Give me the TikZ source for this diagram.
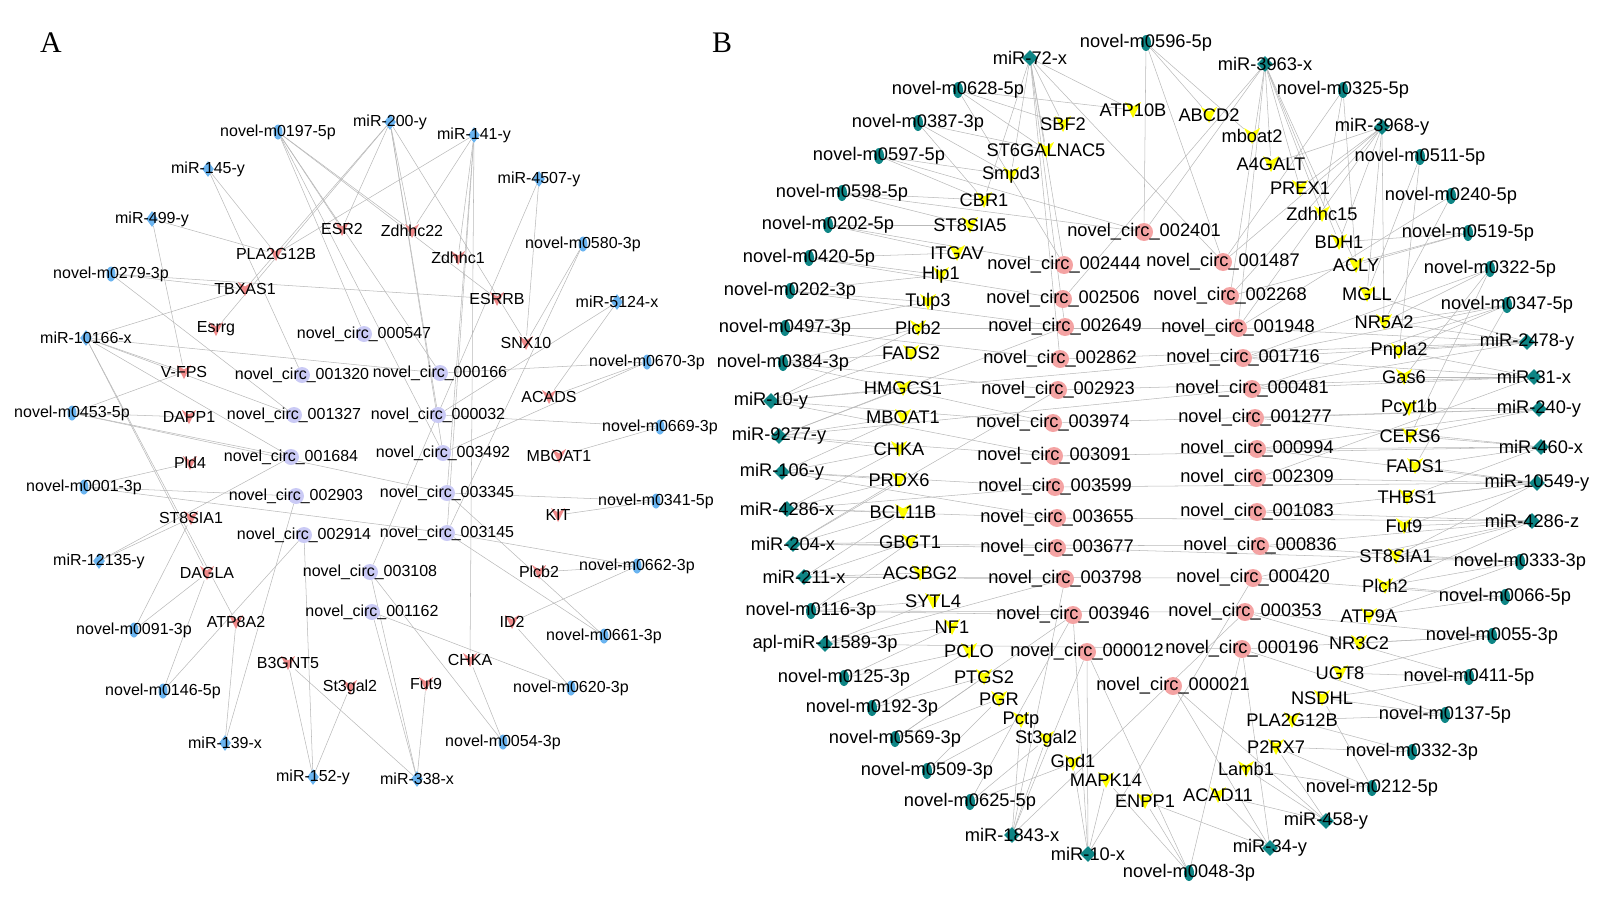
\documentclass[tikz,border=0pt]{standalone}
\usepackage{fontspec}
\setmainfont{Liberation Sans}
\newfontfamily\panelfont{Liberation Serif}
\usepackage{xcolor}
\definecolor{skyA}{HTML}{6AB4F0}
\definecolor{coralA}{HTML}{F08A8A}
\definecolor{lavA}{HTML}{CACAF5}
\definecolor{tealB}{HTML}{0E8585}
\definecolor{yellowB}{HTML}{FFFF00}
\definecolor{pinkB}{HTML}{F4A3A3}
\usetikzlibrary{shapes.geometric,backgrounds}
\tikzset{
    link/.style={draw=gray!55, line width=0.3pt},
    every label/.style={inner sep=0pt, text=black},
    vee/.style={rectangle, inner sep=0pt,
        path picture={\fill[#1] (path picture bounding box.north west)
            -- ([yshift=-0.09cm]path picture bounding box.north)
            -- (path picture bounding box.north east)
            -- (path picture bounding box.south) -- cycle;}},
    mirA/.style={diamond, fill=skyA, inner sep=0pt, minimum width=0.24cm, minimum height=0.32cm},
    novA/.style={ellipse, fill=skyA, inner sep=0pt, minimum width=0.18cm, minimum height=0.3cm},
    circA/.style={circle, fill=lavA, inner sep=0pt, minimum size=0.32cm},
    geneA/.style={vee=coralA, minimum size=0.28cm},
    mirB/.style={diamond, fill=tealB, inner sep=0pt, minimum width=0.32cm, minimum height=0.32cm},
    novB/.style={ellipse, fill=tealB, inner sep=0pt, minimum width=0.2cm, minimum height=0.32cm},
    circB/.style={circle, fill=pinkB, inner sep=0pt, minimum size=0.36cm},
    geneB/.style={vee=yellowB, minimum size=0.32cm},
    panel/.style={font=\panelfont\fontsize{17}{17}\selectfont, inner sep=0pt}
}

\begin{document}
\begin{tikzpicture}[x=0.02cm, y=-0.02cm]
\useasboundingbox (0,0) rectangle (1600,900);

\node[panel] (panA) at (51,43) {A};
\node[panel] (panB) at (722,43) {B};

% panel A
\begin{scope}[every label/.append style={font=\fontsize{9.1}{10}\selectfont}]
  \node[novA, label=center:novel-m0197-5p] (aN0197) at (278,132) {};
  \node[mirA, label=center:miR-200-y] (aM200) at (390,122) {};
  \node[mirA, label=center:miR-141-y] (aM141) at (474,135) {};
  \node[mirA, label=center:miR-145-y] (aM145) at (208,169) {};
  \node[mirA, label=center:miR-4507-y] (aM4507) at (539,179) {};
  \node[mirA, label=center:miR-499-y] (aM499) at (152,219) {};
  \node[geneA, label=center:ESR2] (aESR2) at (342,229) {};
  \node[geneA, label=center:Zdhhc22] (aZdhhc22) at (412,231) {};
  \node[novA, label=center:novel-m0580-3p] (aN0580) at (583,244) {};
  \node[geneA, label=center:PLA2G12B] (aPLA2G12B) at (276,254) {};
  \node[geneA, label=center:Zdhhc1] (aZdhhc1) at (458,258) {};
  \node[novA, label=center:novel-m0279-3p] (aN0279) at (111,274) {};
  \node[geneA, label=center:TBXAS1] (aTBXAS1) at (245,289) {};
  \node[geneA, label=center:ESRRB] (aESRRB) at (497,299) {};
  \node[mirA, label=center:miR-5124-x] (aM5124) at (617,302) {};
  \node[geneA, label=center:Esrrg] (aEsrrg) at (216,329) {};
  \node[circA, label=center:novel\_circ\_000547] (aC000547) at (364,334) {};
  \node[mirA, label=center:miR-10166-x] (aM10166) at (86,338) {};
  \node[geneA, label=center:SNX10] (aSNX10) at (526,343) {};
  \node[novA, label=center:novel-m0670-3p] (aN0670) at (647,362) {};
  \node[geneA, label=center:V-FPS] (aVFPS) at (184,372) {};
  \node[circA, label=center:novel\_circ\_001320] (aC001320) at (302,375) {};
  \node[circA, label=center:novel\_circ\_000166] (aC000166) at (440,373) {};
  \node[geneA, label=center:ACADS] (aACADS) at (549,397) {};
  \node[novA, label=center:novel-m0453-5p] (aN0453) at (72,413) {};
  \node[geneA, label=center:DAPP1] (aDAPP1) at (189,417) {};
  \node[circA, label=center:novel\_circ\_001327] (aC001327) at (294,415) {};
  \node[circA, label=center:novel\_circ\_000032] (aC000032) at (438,415) {};
  \node[novA, label=center:novel-m0669-3p] (aN0669) at (660,427) {};
  \node[geneA, label=center:MBOAT1] (aMBOAT1) at (559,456) {};
  \node[circA, label=center:novel\_circ\_001684] (aC001684) at (291,457) {};
  \node[circA, label=center:novel\_circ\_003492] (aC003492) at (443,453) {};
  \node[geneA, label=center:Pld4] (aPld4) at (190,463) {};
  \node[novA, label=center:novel-m0001-3p] (aN0001) at (84,487) {};
  \node[circA, label=center:novel\_circ\_002903] (aC002903) at (296,496) {};
  \node[circA, label=center:novel\_circ\_003345] (aC003345) at (447,493) {};
  \node[novA, label=center:novel-m0341-5p] (aN0341) at (656,501) {};
  \node[geneA, label=center:KIT] (aKIT) at (558,515) {};
  \node[geneA, label=center:ST8SIA1] (aST8SIA1) at (191,518) {};
  \node[circA, label=center:novel\_circ\_002914] (aC002914) at (304,535) {};
  \node[circA, label=center:novel\_circ\_003145] (aC003145) at (447,533) {};
  \node[mirA, label=center:miR-12135-y] (aM12135) at (99,561) {};
  \node[geneA, label=center:DAGLA] (aDAGLA) at (207,573) {};
  \node[circA, label=center:novel\_circ\_003108] (aC003108) at (370,572) {};
  \node[geneA, label=center:Plcb2] (aPlcb2) at (539,572) {};
  \node[novA, label=center:novel-m0662-3p] (aN0662) at (637,566) {};
  \node[circA, label=center:novel\_circ\_001162] (aC001162) at (372,612) {};
  \node[geneA, label=center:ATP8A2] (aATP8A2) at (236,622) {};
  \node[geneA, label=center:ID2] (aID2) at (512,622) {};
  \node[novA, label=center:novel-m0091-3p] (aN0091) at (134,630) {};
  \node[novA, label=center:novel-m0661-3p] (aN0661) at (604,636) {};
  \node[geneA, label=center:CHKA] (aCHKA) at (470,660) {};
  \node[geneA, label=center:B3GNT5] (aB3GNT5) at (288,663) {};
  \node[geneA, label=center:Fut9] (aFut9) at (426,684) {};
  \node[geneA, label=center:St3gal2] (aSt3gal2) at (350,687) {};
  \node[novA, label=center:novel-m0620-3p] (aN0620) at (571,688) {};
  \node[novA, label=center:novel-m0146-5p] (aN0146) at (163,691) {};
  \node[novA, label=center:novel-m0054-3p] (aN0054) at (503,742) {};
  \node[mirA, label=center:miR-139-x] (aM139) at (225,743) {};
  \node[mirA, label=center:miR-152-y] (aM152) at (313,777) {};
  \node[mirA, label=center:miR-338-x] (aM338) at (417,779) {};
\end{scope}

% panel B
\begin{scope}[every label/.append style={font=\fontsize{10.4}{12}\selectfont}]
  \node[novB, label=center:novel-m0596-5p] (bN0596) at (1146,43) {};
  \node[mirB, label=center:miR-72-x] (bM72) at (1030,58) {};
  \node[mirB, label=center:miR-3963-x] (bM3963) at (1265,64) {};
  \node[novB, label=center:novel-m0628-5p] (bN0628) at (958,90) {};
  \node[novB, label=center:novel-m0325-5p] (bN0325) at (1343,90) {};
  \node[geneB, label=center:ATP10B] (bATP10B) at (1133,110) {};
  \node[geneB, label=center:ABCD2] (bABCD2) at (1209,115) {};
  \node[novB, label=center:novel-m0387-3p] (bN0387) at (918,123) {};
  \node[geneB, label=center:SBF2] (bSBF2) at (1063,124) {};
  \node[mirB, label=center:miR-3968-y] (bM3968) at (1382,127) {};
  \node[geneB, label=center:mboat2] (bmboat2) at (1252,136) {};
  \node[geneB, label=center:ST6GALNAC5] (bST6GALNAC5) at (1046,150) {};
  \node[novB, label=center:novel-m0597-5p] (bN0597) at (879,156) {};
  \node[novB, label=center:novel-m0511-5p] (bN0511) at (1420,157) {};
  \node[geneB, label=center:A4GALT] (bA4GALT) at (1271,164) {};
  \node[geneB, label=center:Smpd3] (bSmpd3) at (1011,175) {};
  \node[geneB, label=center:PREX1] (bPREX1) at (1300,188) {};
  \node[novB, label=center:novel-m0598-5p] (bN0598) at (842,193) {};
  \node[novB, label=center:novel-m0240-5p] (bN0240) at (1451,196) {};
  \node[geneB, label=center:CBR1] (bCBR1) at (984,200) {};
  \node[geneB, label=center:Zdhhc15] (bZdhhc15) at (1322,214) {};
  \node[geneB, label=center:ST8SIA5] (bST8SIA5) at (970,225) {};
  \node[novB, label=center:novel-m0202-5p] (bN0202f) at (828,225) {};
  \node[circB, label=center:novel\_circ\_002401] (bC002401) at (1144,232) {};
  \node[novB, label=center:novel-m0519-5p] (bN0519) at (1468,233) {};
  \node[geneB, label=center:BDH1] (bBDH1) at (1339,242) {};
  \node[geneB, label=center:ITGAV] (bITGAV) at (957,253) {};
  \node[novB, label=center:novel-m0420-5p] (bN0420) at (809,258) {};
  \node[circB, label=center:novel\_circ\_001487] (bC001487) at (1223,262) {};
  \node[circB, label=center:novel\_circ\_002444] (bC002444) at (1064,265) {};
  \node[geneB, label=center:ACLY] (bACLY) at (1356,265) {};
  \node[novB, label=center:novel-m0322-5p] (bN0322) at (1490,269) {};
  \node[geneB, label=center:Hip1] (bHip1) at (941,275) {};
  \node[novB, label=center:novel-m0202-3p] (bN0202t) at (790,291) {};
  \node[geneB, label=center:MGLL] (bMGLL) at (1367,294) {};
  \node[circB, label=center:novel\_circ\_002268] (bC002268) at (1230,296) {};
  \node[circB, label=center:novel\_circ\_002506] (bC002506) at (1063,299) {};
  \node[geneB, label=center:Tulp3] (bTulp3) at (928,302) {};
  \node[novB, label=center:novel-m0347-5p] (bN0347) at (1507,305) {};
  \node[geneB, label=center:NR5A2] (bNR5A2) at (1384,322) {};
  \node[circB, label=center:novel\_circ\_002649] (bC002649) at (1065,327) {};
  \node[circB, label=center:novel\_circ\_001948] (bC001948) at (1238,328) {};
  \node[geneB, label=center:Plcb2] (bPlcb2) at (918,328) {};
  \node[novB, label=center:novel-m0497-3p] (bN0497) at (785,328) {};
  \node[mirB, label=center:miR-2478-y] (bM2478) at (1527,342) {};
  \node[geneB, label=center:Pnpla2] (bPnpla2) at (1399,351) {};
  \node[geneB, label=center:FADS2] (bFADS2) at (911,353) {};
  \node[circB, label=center:novel\_circ\_002862] (bC002862) at (1060,359) {};
  \node[circB, label=center:novel\_circ\_001716] (bC001716) at (1243,358) {};
  \node[novB, label=center:novel-m0384-3p] (bN0384) at (783,363) {};
  \node[geneB, label=center:Gas6] (bGas6) at (1404,377) {};
  \node[mirB, label=center:miR-31-x] (bM31) at (1534,377) {};
  \node[geneB, label=center:HMGCS1] (bHMGCS1) at (903,388) {};
  \node[circB, label=center:novel\_circ\_002923] (bC002923) at (1058,390) {};
  \node[circB, label=center:novel\_circ\_000481] (bC000481) at (1252,389) {};
  \node[mirB, label=center:miR-10-y] (bM10y) at (771,401) {};
  \node[geneB, label=center:Pcyt1b] (bPcyt1b) at (1409,408) {};
  \node[mirB, label=center:miR-240-y] (bM240) at (1539,409) {};
  \node[geneB, label=center:MBOAT1] (bMBOAT1) at (903,417) {};
  \node[circB, label=center:novel\_circ\_001277] (bC001277) at (1255,418) {};
  \node[circB, label=center:novel\_circ\_003974] (bC003974) at (1053,423) {};
  \node[geneB, label=center:CERS6] (bCERS6) at (1410,436) {};
  \node[mirB, label=center:miR-9277-y] (bM9277) at (779,436) {};
  \node[mirB, label=center:miR-460-x] (bM460) at (1541,447) {};
  \node[geneB, label=center:CHKA] (bCHKA) at (899,449) {};
  \node[circB, label=center:novel\_circ\_000994] (bC000994) at (1257,449) {};
  \node[circB, label=center:novel\_circ\_003091] (bC003091) at (1054,456) {};
  \node[geneB, label=center:FADS1] (bFADS1) at (1415,466) {};
  \node[mirB, label=center:miR-106-y] (bM106) at (782,472) {};
  \node[circB, label=center:novel\_circ\_002309] (bC002309) at (1257,478) {};
  \node[geneB, label=center:PRDX6] (bPRDX6) at (899,480) {};
  \node[mirB, label=center:miR-10549-y] (bM10549) at (1537,483) {};
  \node[circB, label=center:novel\_circ\_003599] (bC003599) at (1055,487) {};
  \node[geneB, label=center:THBS1] (bTHBS1) at (1407,497) {};
  \node[mirB, label=center:miR-4286-x] (bM4286x) at (787,509) {};
  \node[geneB, label=center:BCL11B] (bBCL11B) at (903,512) {};
  \node[circB, label=center:novel\_circ\_001083] (bC001083) at (1257,512) {};
  \node[circB, label=center:novel\_circ\_003655] (bC003655) at (1057,518) {};
  \node[mirB, label=center:miR-4286-z] (bM4286z) at (1532,521) {};
  \node[geneB, label=center:Fut9] (bFut9) at (1404,526) {};
  \node[geneB, label=center:GBGT1] (bGBGT1) at (910,542) {};
  \node[mirB, label=center:miR-204-x] (bM204) at (793,544) {};
  \node[circB, label=center:novel\_circ\_000836] (bC000836) at (1260,546) {};
  \node[circB, label=center:novel\_circ\_003677] (bC003677) at (1057,548) {};
  \node[geneB, label=center:ST8SIA1] (bST8SIA1) at (1396,556) {};
  \node[novB, label=center:novel-m0333-3p] (bN0333) at (1520,562) {};
  \node[geneB, label=center:ACSBG2] (bACSBG2) at (920,573) {};
  \node[mirB, label=center:miR-211-x] (bM211) at (804,577) {};
  \node[circB, label=center:novel\_circ\_003798] (bC003798) at (1065,579) {};
  \node[circB, label=center:novel\_circ\_000420] (bC000420) at (1253,578) {};
  \node[geneB, label=center:Plch2] (bPlch2) at (1385,586) {};
  \node[novB, label=center:novel-m0066-5p] (bN0066) at (1505,597) {};
  \node[geneB, label=center:SYTL4] (bSYTL4) at (933,601) {};
  \node[novB, label=center:novel-m0116-3p] (bN0116) at (811,611) {};
  \node[circB, label=center:novel\_circ\_000353] (bC000353) at (1245,612) {};
  \node[circB, label=center:novel\_circ\_003946] (bC003946) at (1073,615) {};
  \node[geneB, label=center:ATP9A] (bATP9A) at (1369,616) {};
  \node[geneB, label=center:NF1] (bNF1) at (952,627) {};
  \node[novB, label=center:novel-m0055-3p] (bN0055) at (1492,636) {};
  \node[geneB, label=center:NR3C2] (bNR3C2) at (1359,643) {};
  \node[mirB, label=center:apl-miR-11589-3p] (bM11589) at (825,644) {};
  \node[circB, label=center:novel\_circ\_000196] (bC000196) at (1242,649) {};
  \node[geneB, label=center:PCLO] (bPCLO) at (969,651) {};
  \node[circB, label=center:novel\_circ\_000012] (bC000012) at (1087,652) {};
  \node[geneB, label=center:UGT8] (bUGT8) at (1340,673) {};
  \node[geneB, label=center:PTGS2] (bPTGS2) at (984,677) {};
  \node[novB, label=center:novel-m0411-5p] (bN0411) at (1469,677) {};
  \node[novB, label=center:novel-m0125-3p] (bN0125) at (844,678) {};
  \node[circB, label=center:novel\_circ\_000021] (bC000021) at (1173,686) {};
  \node[geneB, label=center:NSDHL] (bNSDHL) at (1322,698) {};
  \node[geneB, label=center:PGR] (bPGR) at (999,699) {};
  \node[novB, label=center:novel-m0192-3p] (bN0192) at (872,708) {};
  \node[novB, label=center:novel-m0137-5p] (bN0137) at (1445,715) {};
  \node[geneB, label=center:Pctp] (bPctp) at (1021,720) {};
  \node[geneB, label=center:PLA2G12B] (bPLA2G12B) at (1292,720) {};
  \node[geneB, label=center:St3gal2] (bSt3gal2) at (1046,739) {};
  \node[novB, label=center:novel-m0569-3p] (bN0569) at (895,739) {};
  \node[geneB, label=center:P2RX7] (bP2RX7) at (1276,747) {};
  \node[novB, label=center:novel-m0332-3p] (bN0332) at (1412,752) {};
  \node[geneB, label=center:Gpd1] (bGpd1) at (1073,763) {};
  \node[geneB, label=center:Lamb1] (bLamb1) at (1246,769) {};
  \node[novB, label=center:novel-m0509-3p] (bN0509) at (927,771) {};
  \node[geneB, label=center:MAPK14] (bMAPK14) at (1106,780) {};
  \node[novB, label=center:novel-m0212-5p] (bN0212) at (1372,788) {};
  \node[geneB, label=center:ACAD11] (bACAD11) at (1218,795) {};
  \node[geneB, label=center:ENPP1] (bENPP1) at (1145,801) {};
  \node[novB, label=center:novel-m0625-5p] (bN0625) at (970,802) {};
  \node[mirB, label=center:miR-458-y] (bM458) at (1326,821) {};
  \node[mirB, label=center:miR-1843-x] (bM1843) at (1012,835) {};
  \node[mirB, label=center:miR-34-y] (bM34) at (1270,848) {};
  \node[mirB, label=center:miR-10-x] (bM10x) at (1088,854) {};
  \node[novB, label=center:novel-m0048-3p] (bN0048) at (1189,873) {};
\end{scope}

% connectors
\begin{scope}[on background layer]
  \foreach \s/\tl in {aN0197/{aESR2,aZdhhc22,aC000547,aC000166,aESRRB,aC003492},
      aM145/{aPLA2G12B,aC001320}, aM499/{aPLA2G12B,aVFPS},
      aN0279/{aTBXAS1,aESRRB,aC001327},
      aM10166/{aTBXAS1,aVFPS,aC001327,aC001684,aDAGLA,aATP8A2,aC000166},
      aM200/{aESR2,aEsrrg,aZdhhc22,aC000032,aC003492,aSNX10,aTBXAS1},
      aM141/{aZdhhc22,aZdhhc1,aC003345,aC003145,aCHKA,aPLA2G12B},
      aM4507/{aSNX10,aC003108}, aN0580/{aSNX10,aC003145},
      aM5124/{aACADS,aC000032}, aN0670/{aACADS,aC000166,aC003492},
      aN0669/{aC000032,aMBOAT1}, aN0341/{aC003345,aKIT},
      aN0662/{aID2,aC003145,aPlcb2}, aN0661/{aC003145,aC003345},
      aN0620/{aID2,aC001162}, aN0054/{aCHKA,aC003108},
      aM338/{aC001162,aC003108,aB3GNT5,aFut9}, aM152/{aC002914,aSt3gal2,aB3GNT5},
      aM139/{aATP8A2,aC002903}, aN0146/{aDAGLA,aC002914},
      aN0091/{aDAGLA,aST8SIA1}, aM12135/{aST8SIA1,aC001684},
      aN0001/{aC002903,aPld4,aC003145}, aN0453/{aC001684,aVFPS,aDAPP1,aC003345}}
    \foreach \t in \tl
      \path[link] (\s) edge (\t);
  \foreach \s/\tl in {bM72/{bSBF2,bST6GALNAC5,bSmpd3,bCBR1,bC002444,bC001487,bATP10B,bC002862,bC002649},
      bN0596/{bC002401,bABCD2,bmboat2,bC001487},
      bM3963/{bA4GALT,bPREX1,bZdhhc15,bBDH1,bACLY,bC002401,bC002268,bC002506,bC001948},
      bN0325/{bZdhhc15,bACLY,bC001487},
      bM3968/{bPREX1,bBDH1,bMGLL,bNR5A2,bC001487,bC001948,bA4GALT,bC002268},
      bN0511/{bPnpla2,bMGLL}, bN0240/{bNR5A2,bC001948},
      bN0519/{bBDH1,bACLY,bC002268},
      bN0322/{bNR5A2,bGas6,bCERS6,bC001716},
      bN0347/{bNR5A2,bPnpla2,bFADS1,bC000481,bC001716},
      bM2478/{bMGLL,bNR5A2,bPnpla2,bC001948,bC001716,bC000481,bC002862},
      bM31/{bPnpla2,bGas6,bC001716,bC000481,bC002923,bC002309},
      bM240/{bPcyt1b,bCERS6,bC001277,bC000994,bC003974},
      bM460/{bCERS6,bFADS1,bTHBS1,bC000994,bC001277,bC003091},
      bM10549/{bFADS1,bTHBS1,bFut9,bST8SIA1,bC002309,bC001083,bC000994,bC003599},
      bM4286z/{bFut9,bST8SIA1,bPlch2,bC001083,bC000836,bC000420,bC003655},
      bN0333/{bST8SIA1,bPlch2,bATP9A,bC000836,bC003677},
      bN0066/{bPlch2,bATP9A,bC000420},
      bN0055/{bNR3C2,bUGT8,bC000353,bC000196}, bN0411/{bUGT8,bNSDHL,bC000353},
      bN0137/{bNSDHL,bPLA2G12B,bC000196}, bN0332/{bPLA2G12B,bP2RX7},
      bN0212/{bP2RX7,bLamb1,bNSDHL}, bM458/{bLamb1,bP2RX7,bACAD11,bC000021},
      bM34/{bACAD11,bC000021,bENPP1,bC000196},
      bN0048/{bENPP1,bC000196,bMAPK14,bC000012},
      bM10x/{bMAPK14,bGpd1,bC000012,bC003946,bC000420},
      bM1843/{bSt3gal2,bPctp,bC003798,bC000353,bC000012},
      bN0625/{bSt3gal2,bGpd1,bC003946}, bN0509/{bPGR,bPctp},
      bN0569/{bPGR,bPTGS2,bC003946}, bN0192/{bPTGS2,bPCLO},
      bN0125/{bNF1,bPCLO}, bM11589/{bNF1,bSYTL4,bC003798,bC000196},
      bN0116/{bSYTL4,bACSBG2,bGBGT1,bC003946,bC000353},
      bM211/{bGBGT1,bACSBG2,bBCL11B,bC003798,bC000420},
      bM204/{bGBGT1,bBCL11B,bPRDX6,bC003677,bC002923,bC000836},
      bM4286x/{bBCL11B,bPRDX6,bCHKA,bC003655,bC003599},
      bM106/{bPRDX6,bCHKA,bMBOAT1,bC003599,bC003655},
      bM9277/{bMBOAT1,bHMGCS1,bCHKA,bC003091,bC002649,bC000481},
      bM10y/{bHMGCS1,bFADS2,bPlcb2,bC003974,bC003091,bC001716},
      bN0384/{bFADS2,bPlcb2,bC002923,bC003974},
      bN0497/{bPlcb2,bTulp3,bC002862,bC001948},
      bN0202t/{bTulp3,bHip1,bC002649}, bN0420/{bHip1,bITGAV,bC002506},
      bN0202f/{bITGAV,bST8SIA5,bC002444}, bN0598/{bST8SIA5,bCBR1,bC002401},
      bN0597/{bCBR1,bSmpd3,bC002401}, bN0387/{bSmpd3,bST6GALNAC5,bCBR1},
      bN0628/{bST6GALNAC5,bSBF2,bATP10B,bC002444}}
    \foreach \t in \tl
      \path[link] (\s) edge (\t);
\end{scope}
\end{tikzpicture}
\end{document}
